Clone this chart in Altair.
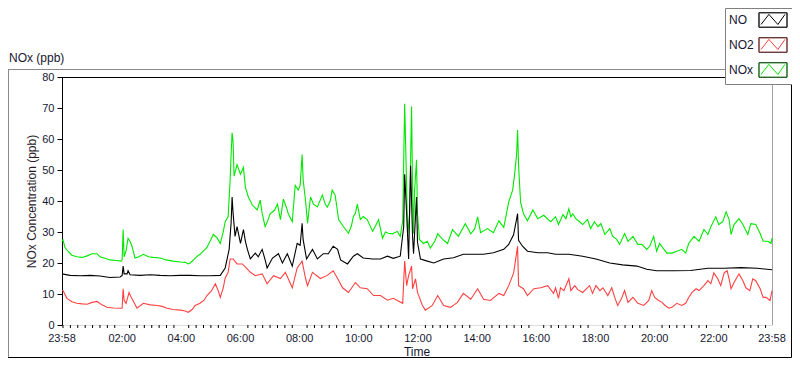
import pandas as pd
import altair as alt

# ---------------- axis definitions (minutes after 23:58 of previous day) ----------------
tick_minutes = [0, 122, 242, 362, 482, 602, 722, 842, 962, 1082, 1202, 1322, 1440]
tick_labels = ["23:58", "02:00", "04:00", "06:00", "08:00", "10:00", "12:00",
               "14:00", "16:00", "18:00", "20:00", "22:00", "23:58"]
minor_minutes = [2 + 15 * k for k in range(96) if k % 8 != 0 or k == 0]
y_ticks = [0, 10, 20, 30, 40, 50, 60, 70, 80]

series_names = ["NO", "NO2", "NOx"]
series_colors = ["#000000", "#ff4040", "#00e800"]

# ---------------- data ----------------
nox_time = [0, 2, 6, 12, 20, 30, 41, 51, 61, 71, 77, 87, 97, 110, 120, 122, 124, 126, 130, 134,
            138, 142, 148, 156, 165, 175, 185, 199, 211, 225, 240, 250, 256, 260, 270, 274, 280,
            294, 307, 315, 321, 327, 331, 337, 341, 343, 345, 347, 349, 355, 362, 368, 372, 378,
            386, 396, 402, 406, 412, 418, 422, 431, 437, 443, 449, 455, 459, 467, 473, 479, 483,
            487, 489, 494, 498, 504, 510, 518, 528, 534, 538, 544, 548, 554, 561, 571, 581, 587,
            591, 595, 599, 605, 611, 619, 630, 636, 642, 650, 656, 662, 670, 680, 686, 691, 695,
            699, 701, 705, 709, 711, 713, 715, 719, 721, 725, 733, 741, 747, 756, 762, 772, 782,
            792, 804, 818, 829, 837, 843, 849, 863, 875, 886, 896, 906, 914, 918, 922, 924, 926,
            930, 936, 944, 955, 965, 977, 991, 1001, 1007, 1016, 1022, 1028, 1032, 1036, 1042,
            1050, 1056, 1066, 1072, 1080, 1087, 1093, 1101, 1111, 1117, 1125, 1131, 1141, 1148,
            1158, 1168, 1176, 1186, 1192, 1200, 1206, 1212, 1221, 1227, 1237, 1247, 1257, 1265,
            1271, 1282, 1292, 1302, 1310, 1316, 1326, 1332, 1340, 1347, 1353, 1357, 1363, 1373,
            1381, 1391, 1397, 1407, 1416, 1422, 1432, 1438, 1440]
nox_ppb = [27, 27.5, 25, 23.8, 22.5, 22, 21.8, 22.3, 23, 23, 22, 21.5, 21, 20.8, 20.6, 21, 30.8, 22,
           24, 28, 27, 25.4, 21.6, 22, 22.8, 22, 21.8, 21.6, 21, 20.6, 20.3, 20.2, 19.7, 20, 21.5,
           22.2, 22.8, 25, 29.2, 28, 26.3, 30, 33.3, 35, 46.7, 55, 62, 59, 48, 51.7, 48.6, 50.8,
           44.4, 41.3, 38.7, 37.1, 40.3, 36, 31.7, 34, 35.9, 37, 39, 34, 40.6, 38, 35.9, 33.3, 45,
           43.5, 45, 55, 47, 40, 32.8, 41.3, 39, 38.1, 41.9, 39, 38, 40, 43.5, 41.9, 34, 31.7, 29.6,
           32, 35, 36, 39, 34, 35, 34, 30.2, 32, 34, 28, 30, 29.6, 29.4, 30.2, 28.6, 33.6, 71.4,
           44.4, 28.6, 36, 70.5, 44, 29.5, 43, 53.3, 36, 27.6, 26.3, 27, 24.8, 27, 29.4, 27.6, 26.3,
           30.8, 28.6, 32.7, 29.4, 31, 34.9, 29.8, 31.1, 29.8, 33.6, 31.5, 39.7, 43.5, 48.6, 55,
           62.9, 51.7, 39.7, 35.9, 33.6, 37.1, 34.3, 35.4, 33.3, 34.9, 32.4, 35.6, 34.3, 37.5,
           34.9, 35.9, 34.3, 33.3, 32.4, 34, 31.1, 33.3, 31.7, 32.7, 29.2, 31.1, 28.6, 27.6, 26,
           29.5, 27, 28.6, 26, 26, 24.4, 25.4, 28.6, 23.8, 26.3, 24.4, 23.2, 23.2, 23.8, 24.4, 23.2,
           26.3, 28.6, 27, 30.8, 29.2, 31.7, 34.9, 32.4, 33.3, 36.5, 34, 29.2, 32.4, 34.3, 32.4,
           29.2, 32.7, 32.4, 29.5, 27, 27, 26.3, 28]

no_time = [0, 16, 37, 57, 77, 97, 118, 122, 124, 126, 132, 134, 138, 158, 179, 199, 219, 240, 260,
           280, 301, 321, 331, 339, 343, 345, 347, 351, 355, 362, 368, 372, 376, 382, 392, 398, 406,
           412, 416, 427, 439, 447, 457, 467, 477, 483, 487, 489, 496, 508, 518, 530, 540, 550, 559,
           565, 579, 591, 599, 611, 630, 646, 660, 672, 686, 693, 695, 699, 703, 707, 711, 713, 719,
           721, 727, 741, 754, 774, 794, 814, 835, 855, 875, 896, 906, 916, 924, 926, 934, 944, 965,
           985, 1001, 1028, 1056, 1083, 1111, 1137, 1166, 1186, 1206, 1241, 1275, 1310, 1343, 1377,
           1410, 1440]
no_ppb = [16.5, 16, 15.9, 16, 15.8, 15.3, 15.5, 16, 19, 16.5, 16.5, 17.5, 16.2, 16, 16.2, 16, 15.9,
          16, 16, 15.9, 15.9, 16, 18.4, 24.4, 33, 41.3, 36, 28.6, 31.7, 26.3, 30.8, 27, 24.4, 21.3,
          23.2, 22, 24.4, 21, 18.4, 21.6, 23, 20, 23, 19, 26.3, 25.7, 32.8, 27.6, 21.3, 24.4, 21.3,
          23, 23, 25.4, 24.4, 21, 19.7, 22.2, 23, 21.6, 21.3, 21.3, 22.2, 21.5, 22.2, 31.7, 48.6, 36,
          21.3, 51.4, 28.6, 23, 41.3, 26.7, 21.3, 20.6, 20, 21.3, 21.7, 22.8, 22.8, 22.8, 23.3, 24.4,
          26, 29.2, 35.9, 27.3, 25.4, 23.8, 23.3, 23.3, 22.8, 22.8, 22.2, 21.3, 20, 19.4, 19, 18,
          17.5, 17.5, 17.6, 18.3, 18.3, 18.5, 18.3, 17.8]

no2_time = [0, 2, 10, 20, 30, 41, 51, 61, 71, 81, 91, 104, 118, 122, 124, 126, 130, 136, 140, 144,
            152, 165, 179, 193, 203, 213, 225, 240, 250, 256, 264, 270, 280, 288, 294, 303, 311,
            317, 321, 327, 331, 337, 341, 347, 355, 366, 376, 382, 392, 406, 416, 429, 443, 453,
            467, 477, 487, 494, 498, 508, 524, 538, 550, 559, 569, 581, 595, 605, 619, 632, 646,
            660, 672, 680, 691, 695, 699, 703, 709, 711, 717, 721, 731, 737, 751, 762, 774, 788,
            802, 814, 829, 843, 855, 869, 886, 896, 906, 916, 924, 926, 936, 944, 957, 971, 985,
            997, 1001, 1007, 1011, 1018, 1028, 1032, 1040, 1046, 1056, 1070, 1076, 1083, 1091,
            1097, 1107, 1115, 1121, 1127, 1135, 1141, 1148, 1158, 1168, 1180, 1190, 1196, 1202,
            1210, 1217, 1223, 1231, 1237, 1247, 1257, 1265, 1271, 1278, 1286, 1292, 1302, 1310,
            1316, 1322, 1330, 1336, 1343, 1349, 1353, 1357, 1363, 1373, 1381, 1387, 1395, 1401,
            1407, 1416, 1422, 1428, 1436, 1440]
no2_ppb = [11, 11.1, 8.6, 7.5, 7, 6.8, 6.7, 7.3, 7.6, 6.5, 5.7, 5.5, 5.4, 5.5, 11.7, 8, 7, 10.5, 9,
           7.9, 5.4, 7, 6.5, 6.3, 6, 5.4, 5, 4.8, 4.5, 4.1, 5, 6.3, 7, 8, 9.5, 11, 13.3, 11, 8.9, 12,
           15.2, 17, 21.3, 21.3, 19.7, 19.7, 18, 17, 15.9, 16.5, 13.3, 15.9, 15, 17, 12, 18.4, 20.6,
           15, 12.7, 17, 15, 16, 17.5, 15, 12, 10.5, 13.7, 12, 11.7, 9.5, 9.5, 8, 8.6, 7.9, 7, 20.6,
           12.7, 15.9, 19, 11.7, 14.9, 10.5, 6.3, 4.8, 6.3, 9.5, 6.3, 5.7, 7.3, 10.2, 8.3, 11.7, 8.3,
           7.9, 10.2, 9.5, 12.7, 16.8, 25.4, 12.7, 11.7, 9.5, 11.7, 12, 12.7, 10.2, 12, 8.6, 12,
           11.1, 14.9, 11.1, 12.7, 11.4, 10.5, 12.7, 10.2, 12.7, 11.1, 12, 9.5, 12, 8.9, 6.3, 8.6,
           11.1, 7.3, 8.9, 7, 6.3, 7.9, 11.1, 8.9, 7.9, 7.3, 6.3, 5.4, 5.7, 7, 6.3, 7, 8.9, 10.5,
           11.7, 11.1, 12.7, 14.3, 13.3, 16.8, 14.9, 12.7, 16.8, 17.5, 14.9, 11.7, 13.7, 16.5, 14.3,
           12, 11.1, 14.9, 14.3, 11.7, 8.9, 8.9, 7.9, 11.1]

# ---------------- layout ----------------
W, H = 710, 248
PAD = {"left": 54, "top": 69, "right": 20, "bottom": 33}
FONT = "Liberation Sans"
TXT = "#161630"

df = pd.concat([
    pd.DataFrame({"t": nox_time, "v": nox_ppb, "series": "NOx"}),
    pd.DataFrame({"t": no2_time, "v": no2_ppb, "series": "NO2"}),
    pd.DataFrame({"t": no_time, "v": no_ppb, "series": "NO"}),
], ignore_index=True)

x_scale = alt.Scale(domain=[0, 1440], nice=False, zero=False)
y_scale = alt.Scale(domain=[0, 80], nice=False)

box = "M-1.867,-0.967H1.867V0.967H-1.867Z"
zig = box + "M-1.6,0.6L-0.55,-0.75L0.65,0.6L1.6,-0.75"

legend_common = dict(orient="none", legendX=663, legendY=-PAD["top"], title=None, symbolSize=225,
                     symbolOffset=36, labelOffset={"expr": "-52"}, rowPadding=5, padding=4,
                     labelFont=FONT, labelFontSize=12, symbolStrokeWidth=1)

lines = alt.Chart(df).mark_line(strokeWidth=1.1).encode(
    x=alt.X("t:Q", scale=x_scale,
            axis=alt.Axis(values=tick_minutes, labels=False, title=None, tickSize=5,
                          tickColor="black", domainColor="#a0a0a0", grid=False)),
    y=alt.Y("v:Q", scale=y_scale,
            axis=alt.Axis(values=y_ticks, tickSize=5, tickColor="black", domainColor="black",
                          labelColor=TXT, labelFontSize=11, labelPadding=3, labelFont=FONT,
                          grid=False, title="NOx Concentration (ppb)", titleX=-31, titleY=H / 2,
                          titleAngle=270, titleBaseline="middle", titleAlign="center",
                          titleFontWeight="normal", titleFontSize=12, titleFont=FONT,
                          titleColor="#2a1a2a")),
    color=alt.Color("series:N", scale=alt.Scale(domain=series_names, range=series_colors),
                    legend=alt.Legend(symbolType=zig, strokeColor="#808080", fillColor="white",
                                      labelColor=TXT, **legend_common)),
)

boxes = alt.Chart(pd.DataFrame({"swatch": series_names})).mark_point(opacity=0).encode(
    shape=alt.Shape("swatch:N", scale=alt.Scale(range=[box, box, box]),
                    legend=alt.Legend(symbolStrokeColor="#303030", symbolFillColor="transparent",
                                      symbolOpacity=1, labelOpacity=0, labelColor=TXT,
                                      **legend_common)),
)

minor = alt.Chart(pd.DataFrame({"m": minor_minutes})).mark_rule(color="black", strokeWidth=1).encode(
    x=alt.X("m:Q", scale=x_scale, axis=None),
    y=alt.value(H),
    y2=alt.value(H + 3),
)

tick_text = alt.Chart(pd.DataFrame({"m": tick_minutes, "label": tick_labels})).mark_text(
    baseline="top", font=FONT, fontSize=11, color=TXT).encode(
    x=alt.X("m:Q", scale=x_scale, axis=None),
    y=alt.value(H + 8),
    text="label:N",
)

one = pd.DataFrame({"a": [0]})


def rule(x, x2, y, y2, color):
    return alt.Chart(one).mark_rule(color=color, strokeWidth=1).encode(
        x=alt.value(x), x2=alt.value(x2), y=alt.value(y), y2=alt.value(y2))


top_rel = -PAD["top"] + 61.5
bottom_rel = H + PAD["bottom"] - 0.5
right_rel = W + PAD["right"] - 0.5
frames = [
    rule(-PAD["left"], right_rel, top_rel, top_rel, "#8a8a8a"),          # panel top
    rule(-PAD["left"] + 0.5, -PAD["left"] + 0.5, top_rel, bottom_rel, "#8a8a8a"),  # panel left
    rule(-PAD["left"], right_rel, bottom_rel, bottom_rel, "#000000"),    # panel bottom
    rule(right_rel, right_rel, top_rel, bottom_rel, "#000000"),          # panel right
    rule(0, W, 0.5, 0.5, "#000000"),                                     # plot top
    rule(W + 0.5, W + 0.5, 0, H, "#a0a0a0"),                             # plot right
]

texts = [
    alt.Chart(one).mark_text(align="left", baseline="middle", font=FONT, fontSize=12,
                             color=TXT).encode(
        x=alt.value(-PAD["left"] + 1), y=alt.value(-19), text=alt.value("NOx (ppb)")),
    alt.Chart(one).mark_text(align="center", baseline="alphabetic", font=FONT, fontSize=12,
                             color=TXT).encode(
        x=alt.value(W / 2), y=alt.value(H + 31), text=alt.value("Time")),
]

chart = alt.layer(*frames, lines, minor, tick_text, boxes, *texts).properties(
    width=W, height=H,
    autosize=alt.AutoSizeParams(type="none"),
    padding=PAD,
    background="white",
).configure_view(stroke=None).configure(font=FONT)

chart.save("out.html", embed_options={"renderer": "svg", "actions": False})
